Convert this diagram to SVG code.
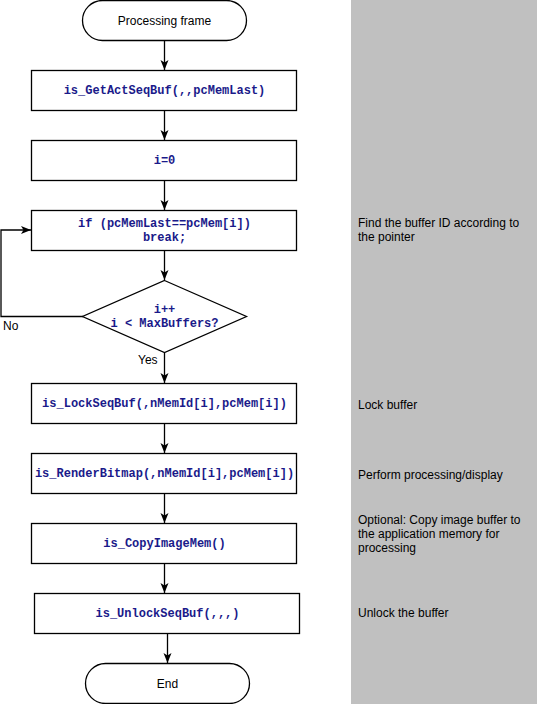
<svg xmlns="http://www.w3.org/2000/svg" width="537" height="704" viewBox="0 0 537 704">
<defs>
<style>
.box{fill:#fff;stroke:#000;stroke-width:1.3}
.code{font-family:"Liberation Mono","Courier New",monospace;font-weight:bold;font-size:12px;fill:#1a1a8a;text-anchor:middle}
.lbl{font-family:"Liberation Sans",Arial,sans-serif;font-size:12px;fill:#000}
.mid{text-anchor:middle}
.con{fill:none;stroke:#000;stroke-width:1.3}
</style>
<marker id="ah" viewBox="0 0 10 10" refX="10" refY="5" markerWidth="10" markerHeight="10" markerUnits="userSpaceOnUse" orient="auto">
<path d="M0,1 L10,5 L0,9 L2.5,5 Z" fill="#000"/>
</marker>
</defs>
<rect x="0" y="0" width="537" height="704" fill="#fff"/>
<rect id="notes-panel" x="351" y="0" width="186" height="704" fill="#c0c0c0"/>
<g id="connectors">
<path class="con" d="M164.5,41 V70" marker-end="url(#ah)"/>
<path class="con" d="M164.5,110 V140" marker-end="url(#ah)"/>
<path class="con" d="M164.5,180 V210" marker-end="url(#ah)"/>
<path class="con" d="M164.5,250 V280" marker-end="url(#ah)"/>
<path class="con" d="M83,316.5 H1 V230 H31" marker-end="url(#ah)"/>
<path class="con" d="M164.5,353 V383" marker-end="url(#ah)"/>
<path class="con" d="M164.5,423 V453" marker-end="url(#ah)"/>
<path class="con" d="M164.5,493 V523" marker-end="url(#ah)"/>
<path class="con" d="M164.5,563 V593" marker-end="url(#ah)"/>
<path class="con" d="M167.5,633 V663" marker-end="url(#ah)"/>
<text class="lbl" x="3" y="330">No</text>
<text class="lbl" x="138" y="364">Yes</text>
</g>
<g id="start">
<rect class="box" x="82.5" y="0.5" width="164" height="40" rx="20" ry="20"/>
<text class="lbl mid" x="164.5" y="25">Processing frame</text>
</g>
<g id="getactseqbuf">
<rect class="box" x="31.5" y="70.5" width="265" height="40"/>
<text class="code" x="164.5" y="94">is_GetActSeqBuf(,,pcMemLast)</text>
</g>
<g id="init">
<rect class="box" x="31.5" y="140.5" width="265" height="40"/>
<text class="code" x="164.5" y="164">i=0</text>
</g>
<g id="compare">
<rect class="box" x="31.5" y="210.5" width="265" height="40"/>
<text class="code" x="164.5" y="227">if (pcMemLast==pcMem[i])</text>
<text class="code" x="164.5" y="241">break;</text>
</g>
<g id="decision">
<polygon class="box" points="164.5,280.5 246.5,316.5 164.5,352.5 82.5,316.5"/>
<text class="code" x="164.5" y="313">i++</text>
<text class="code" x="164.5" y="327">i &lt; MaxBuffers?</text>
</g>
<g id="lockseqbuf">
<rect class="box" x="31.5" y="383.5" width="265" height="40"/>
<text class="code" x="164.5" y="407">is_LockSeqBuf(,nMemId[i],pcMem[i])</text>
</g>
<g id="renderbitmap">
<rect class="box" x="31.5" y="453.5" width="265" height="40"/>
<text class="code" x="164.5" y="477">is_RenderBitmap(,nMemId[i],pcMem[i])</text>
</g>
<g id="copyimagemem">
<rect class="box" x="31.5" y="523.5" width="265" height="40"/>
<text class="code" x="164.5" y="547">is_CopyImageMem()</text>
</g>
<g id="unlockseqbuf">
<rect class="box" x="34.5" y="593.5" width="265" height="40"/>
<text class="code" x="167.5" y="617">is_UnlockSeqBuf(,,,)</text>
</g>
<g id="end">
<rect class="box" x="85.5" y="663.5" width="164" height="40" rx="20" ry="20"/>
<text class="lbl mid" x="167.5" y="688">End</text>
</g>
<g id="notes">
<text class="lbl" x="358" y="227">Find the buffer ID according to</text>
<text class="lbl" x="358" y="241">the pointer</text>
<text class="lbl" x="358" y="409">Lock buffer</text>
<text class="lbl" x="358" y="479">Perform processing/display</text>
<text class="lbl" x="358" y="524">Optional: Copy image buffer to</text>
<text class="lbl" x="358" y="538">the application memory for</text>
<text class="lbl" x="358" y="552">processing</text>
<text class="lbl" x="358" y="617">Unlock the buffer</text>
</g>
</svg>
